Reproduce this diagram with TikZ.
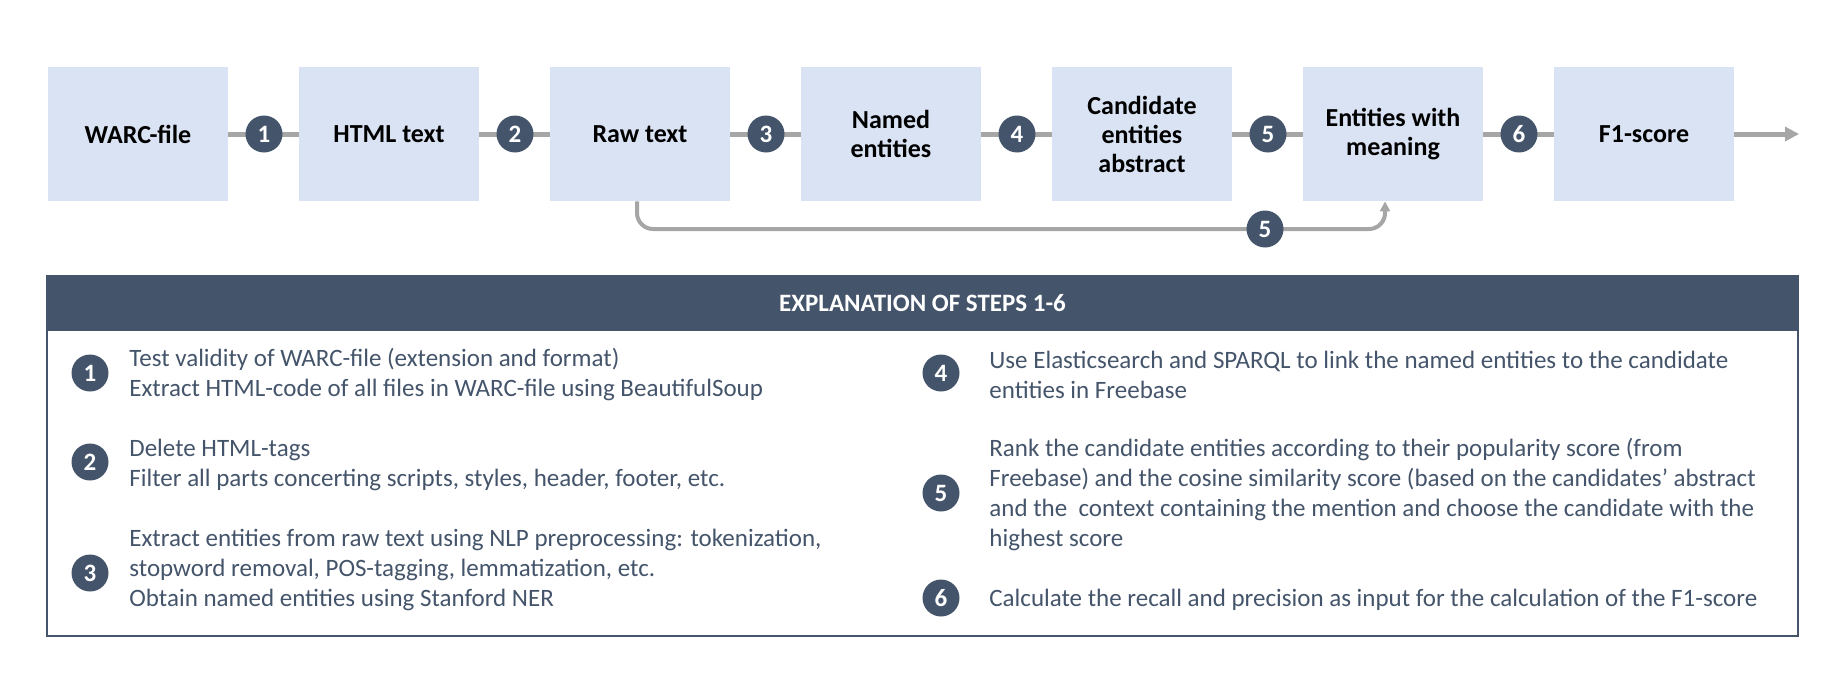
\documentclass[tikz,border=0pt]{standalone}
\usepackage{fontspec}
\setmainfont{Carlito}
\usepackage{tikz}
\usetikzlibrary{arrows.meta}
\definecolor{boxblue}{RGB}{218,227,243}
\definecolor{slate}{RGB}{68,84,106}
\definecolor{linegray}{RGB}{166,166,166}

\begin{document}
\begin{tikzpicture}[x=0.5pt,y=0.5pt,yscale=-1,xscale=1,
    stage/.style={fill=boxblue, minimum width=90pt, minimum height=67pt, inner sep=0pt, align=center, font=\fontsize{13}{14.5}\selectfont\bfseries},
    num/.style={circle, fill=slate, text=white, minimum size=18.5pt, inner sep=0pt, font=\fontsize{12.5}{12.5}\selectfont\bfseries},
    flow/.style={draw=linegray, line width=2.5pt},
    bypass/.style={draw=linegray, line width=2pt, rounded corners=8pt},
    expl/.style={anchor=west, inner sep=0pt, align=left, text=slate, font=\fontsize{12.5}{15}\selectfont}]
        \useasboundingbox (0,0) rectangle (1847,685);

        % Stage Nodes
        \node (warc) [stage] at (138,134) {WARC-file};
        \node (html) [stage] at (389,134) {HTML text};
        \node (raw)  [stage] at (640,134) {Raw text};
        \node (ner)  [stage] at (891,134) {Named\\entities};
        \node (cand) [stage] at (1142,134) {Candidate\\entities\\abstract};
        \node (ent)  [stage] at (1393,134) {Entities with\\meaning};
        \node (fone) [stage] at (1644,134) {F1-score};
        \coordinate (outend) at (1799,134);
        \coordinate (byl) at (637,229);
        \coordinate (byr) at (1385,229);

        %Straight Lines
        \draw [flow] (warc.east) -- (html.west) ;
        \draw [flow] (html.east) -- (raw.west) ;
        \draw [flow] (raw.east) -- (ner.west) ;
        \draw [flow] (ner.east) -- (cand.west) ;
        \draw [flow] (cand.east) -- (ent.west) ;
        \draw [flow] (ent.east) -- (fone.west) ;
        \draw [flow, -{Triangle[length=7pt,width=7pt]}] (fone.east) -- (outend) ;
        %Bypass Line
        \draw [bypass, -{Triangle[length=5pt,width=5pt]}] (raw.south -| byl) -- (byl) -- (byr) -- (ent.south -| byr) ;

        % Step Numbers
        \node (s1) [num] at (264,134) {1};
        \node (s2) [num] at (515,134) {2};
        \node (s3) [num] at (766,134) {3};
        \node (s4) [num] at (1017,134) {4};
        \node (s5) [num] at (1268,134) {5};
        \node (s6) [num] at (1519,134) {6};
        \node (s5b) [num] at (1265,229) {5};

        % Explanation Panel
        \node (panel) [draw=slate, line width=1pt, minimum width=875.5pt, minimum height=180pt, inner sep=0pt] at (922.5,456) {};
        \node (head) [fill=slate, text=white, minimum width=875.5pt, minimum height=27.5pt, inner sep=0pt, font=\fontsize{12.5}{13}\selectfont\bfseries] at (922.5,303.5) {EXPLANATION OF STEPS 1-6};

        % Explanation Numbers
        \node (e1) [num] at (90,373) {1};
        \node (e2) [num] at (90,462) {2};
        \node (e3) [num] at (90,573) {3};
        \node (e4) [num] at (941,373) {4};
        \node (e5) [num] at (941,493) {5};
        \node (e6) [num] at (941,598) {6};

        % Text Node
        \node (t1) [expl] at (129,375) {Test validity of WARC-file (extension and format)\\Extract HTML-code of all files in WARC-file using BeautifulSoup};
        % Text Node
        \node (t2) [expl] at (129,465) {Delete HTML-tags\\Filter all parts concerting scripts, styles, header, footer, etc.};
        % Text Node
        \node (t3) [expl] at (129,570) {Extract entities from raw text using NLP preprocessing: tokenization,\\stopword removal, POS-tagging, lemmatization, etc.\\Obtain named entities using Stanford NER};
        % Text Node
        \node (t4) [expl] at (989,375) {Use Elasticsearch and SPARQL to link the named entities to the candidate\\entities in Freebase};
        % Text Node
        \node (t5) [expl] at (989,495) {Rank the candidate entities according to their popularity score (from\\Freebase) and the cosine similarity score (based on the candidates’ abstract\\and the\ \ context containing the mention and choose the candidate with the\\highest score};
        % Text Node
        \node (t6) [expl] at (989,600) {Calculate the recall and precision as input for the calculation of the F1-score};

\end{tikzpicture}
\end{document}
